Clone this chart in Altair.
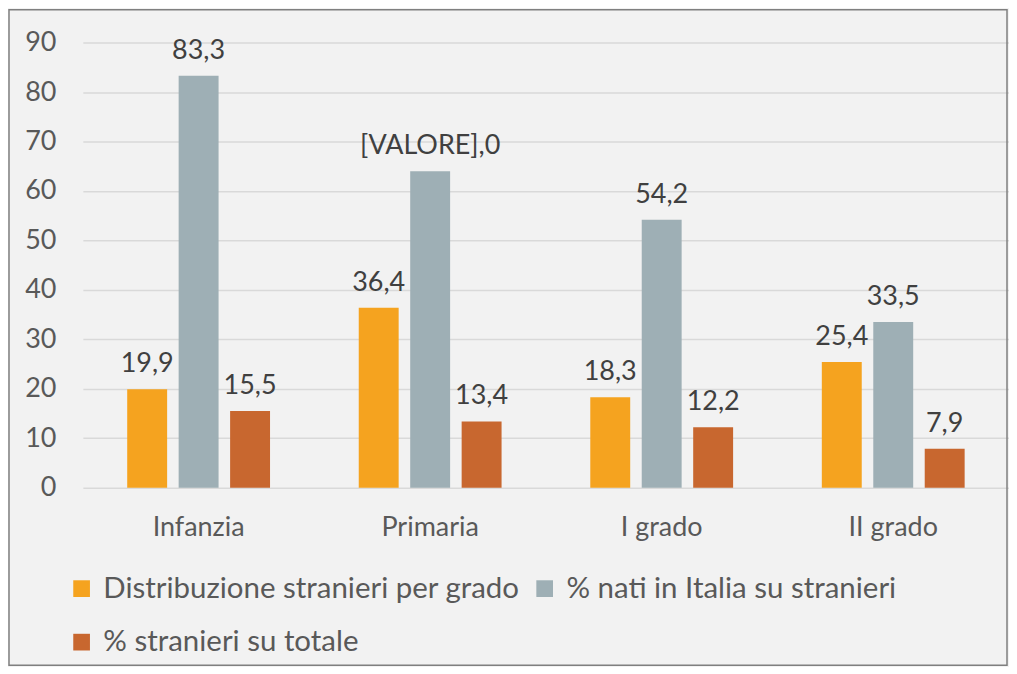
import altair as alt
import pandas as pd

categories = ["Infanzia", "Primaria", "I grado", "II grado"]
series = ["Distribuzione stranieri per grado", "% nati in Italia su stranieri", "% stranieri su totale"]
distribuzione = [19.9, 36.4, 18.3, 25.4]
nati_italia = [83.3, 64.0, 54.2, 33.5]
stranieri_totale = [15.5, 13.4, 12.2, 7.9]
labels_distribuzione = ["19,9", "36,4", "18,3", "25,4"]
labels_nati = ["83,3", "[VALORE],0", "54,2", "33,5"]
labels_totale = ["15,5", "13,4", "12,2", "7,9"]
colors = ["#F5A31F", "#9EAFB5", "#C8672F"]

rows = []
for vals, labs, s in [(distribuzione, labels_distribuzione, series[0]),
                      (nati_italia, labels_nati, series[1]),
                      (stranieri_totale, labels_totale, series[2])]:
    for c, v, l in zip(categories, vals, labs):
        rows.append({"grado": c, "serie": s, "valore": v, "etichetta": l})
df = pd.DataFrame(rows)

FONT = "Lato"

x = alt.X("grado:N", sort=categories, title=None,
          scale=alt.Scale(paddingInner=0, paddingOuter=0),
          axis=alt.Axis(labelAngle=0, labelFontSize=27, labelColor="#595959", labelFont=FONT,
                        labelPadding=27, ticks=False, tickSize=0, domain=False, grid=False))
xo = alt.XOffset("serie:N", sort=series,
                 scale=alt.Scale(paddingInner=0.22, paddingOuter=0.86))
y = alt.Y("valore:Q", title=None,
          scale=alt.Scale(domain=[0, 90], nice=False),
          axis=alt.Axis(values=list(range(0, 91, 10)), labelFontSize=27, labelColor="#595959",
                        labelFont=FONT, labelPadding=27, ticks=False, tickSize=0, domain=False,
                        grid=True, gridColor="#D9D9D9", gridWidth=1.5))
color = alt.Color("serie:N", sort=series, title=None,
                  scale=alt.Scale(domain=series, range=colors),
                  legend=alt.Legend(orient="none", legendX=-16, legendY=532, columns=2,
                                    direction="horizontal", symbolType="square", symbolSize=280,
                                    symbolStrokeWidth=0, labelFontSize=29.5, labelFont=FONT,
                                    labelColor="#595959", labelOffset=7, rowPadding=23,
                                    columnPadding=10, labelLimit=600))

base = alt.Chart(df)
bars = base.mark_bar(size=40).encode(x=x, xOffset=xo, y=y, color=color)
text = base.mark_text(baseline="alphabetic", dy=-17, fontSize=27, font=FONT, color="#404040").encode(
    x=x, xOffset=xo, y=y, text="etichetta:N")

frame = alt.Chart(pd.DataFrame({"a": [0]})).mark_rect(
    fill=None, stroke="#7F7F7F", strokeWidth=1.5, clip=False).encode(
    x=alt.value(-74), x2=alt.value(926), y=alt.value(-33), y2=alt.value(624))

chart = alt.layer(frame, bars, text).properties(
    width=928, height=446, padding=0, background="#F2F2F2"
).configure_view(stroke=None)

chart.save("out.html", embed_options={"renderer": "svg", "actions": False})
